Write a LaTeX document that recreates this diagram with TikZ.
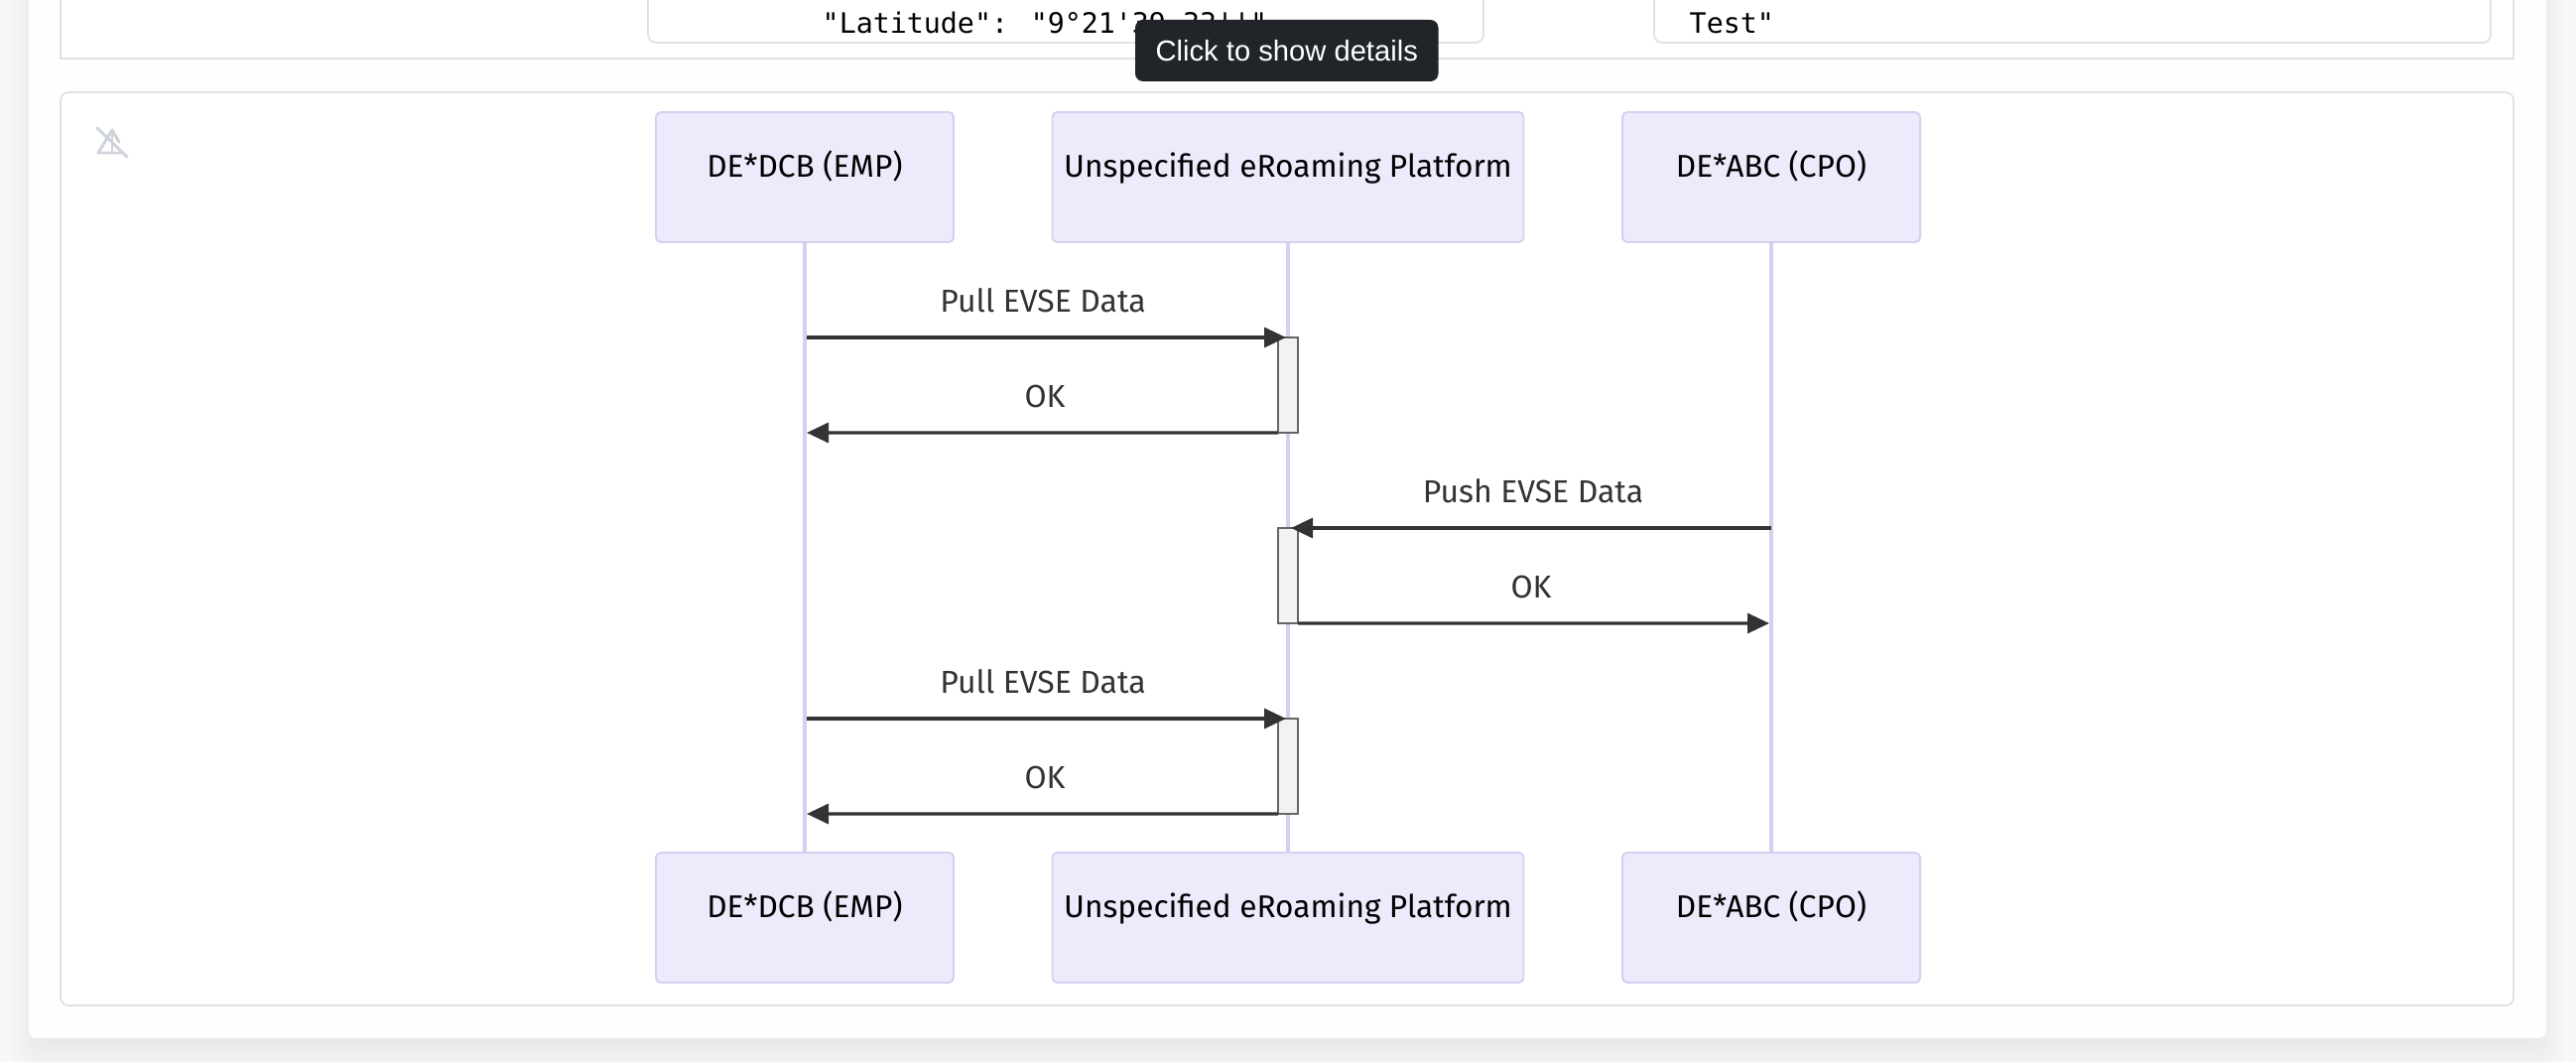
\documentclass[tikz,border=0pt]{standalone}
\usepackage{fontspec}
\usetikzlibrary{arrows.meta}
\newfontfamily\seqfont{Fira Sans}
\newfontfamily\codefont{DejaVu Sans Mono}
\newfontfamily\tipfont{Liberation Sans}
\definecolor{pagegrey}{HTML}{F7F8FA}
\definecolor{framegrey}{HTML}{DEE2E6}
\definecolor{actorfill}{HTML}{ECEAFB}
\definecolor{actorline}{HTML}{D7CFF0}
\definecolor{tipdark}{HTML}{212529}
\definecolor{msgdark}{HTML}{333333}
\definecolor{iconlight}{HTML}{CED4DA}
\tikzset{
	actorbox/.style={draw=actorline, fill=actorfill, line width=0.55pt, rounded corners=0.05cm, minimum height=1.31cm, inner sep=0},
	actortext/.style={anchor=base, inner sep=0, text=black, font=\seqfont\fontsize{9}{11}\selectfont},
	msgtext/.style={anchor=base, inner sep=0, text=msgdark, font=\seqfont\fontsize{9.1}{11}\selectfont},
	codetext/.style={anchor=base west, inner sep=0, text=black, font=\codefont\fontsize{8.05}{10}\selectfont},
	lifeline/.style={draw=actorline, line width=0.9pt},
	msgline/.style={draw=msgdark, line width=0.95pt, -{Triangle[length=0.22cm, width=0.2cm]}},
	actbox/.style={draw=black!60, fill=black!5, line width=0.55pt, minimum width=0.2cm, minimum height=0.96cm, inner sep=0, outer sep=0},
	framebox/.style={draw=framegrey, fill=white, line width=0.5pt}
}
\begin{document}
\begin{tikzpicture}

	\clip (0,0) rectangle (25.96,10.70);
	\fill[pagegrey] (0,0) rectangle (25.96,10.70);
	\foreach \shadowgap in {-0.24,-0.2,...,0.24}
		\fill[black, opacity=0.0075, rounded corners=0.2cm] (0.29-\shadowgap,0.11-\shadowgap) rectangle (25.66+\shadowgap,11.2);
	\fill[white!99.5!black, rounded corners=0.08cm] (0.29,0.24) rectangle (25.66,11);

	\filldraw[framebox] (0.61,11) rectangle (25.33,10.11);
	\filldraw[framebox, rounded corners=0.08cm] (6.53,11) rectangle (14.95,10.27);
	\filldraw[framebox, rounded corners=0.08cm] (16.67,11) rectangle (25.10,10.27);
	\node[codetext] (latitudetext) at (8.28,10.36) {"Latitude": "9°21'39.33''"};
	\node[codetext] (testtext) at (17.02,10.36) {Test"};
	\filldraw[framebox, rounded corners=0.08cm] (0.61,9.77) rectangle (25.33,0.57);

	\draw[iconlight, line width=0.85pt, line cap=round, line join=round] (1.13,9.39) -- (0.99,9.16) -- (1.24,9.16);
	\draw[iconlight, line width=0.85pt, line cap=round] (1.13,9.39) -- (1.13,9.16);
	\draw[iconlight, line width=0.85pt, line cap=round] (1.13,9.39) -- (1.20,9.27);
	\draw[iconlight, line width=0.85pt, line cap=round] (0.98,9.41) -- (1.28,9.12);

	\node[actorbox, minimum width=3cm] (emptop) at (8.11,8.915) {};
	\node[actorbox, minimum width=4.75cm] (platformtop) at (12.98,8.915) {};
	\node[actorbox, minimum width=3cm] (cpotop) at (17.85,8.915) {};
	\node[actorbox, minimum width=3cm] (empbottom) at (8.11,1.455) {};
	\node[actorbox, minimum width=4.75cm] (platformbottom) at (12.98,1.455) {};
	\node[actorbox, minimum width=3cm] (cpobottom) at (17.85,1.455) {};

	\node[actortext] (emptoptext) at (8.11,8.92) {DE*DCB (EMP)};
	\node[actortext] (platformtoptext) at (12.98,8.92) {Unspecified eRoaming Platform};
	\node[actortext] (cpotoptext) at (17.85,8.92) {DE*ABC (CPO)};
	\node[actortext] (empbottomtext) at (8.11,1.46) {DE*DCB (EMP)};
	\node[actortext] (platformbottomtext) at (12.98,1.46) {Unspecified eRoaming Platform};
	\node[actortext] (cpobottomtext) at (17.85,1.46) {DE*ABC (CPO)};

	\draw[lifeline] (emptop) -- (empbottom);
	\draw[lifeline] (platformtop) -- (platformbottom);
	\draw[lifeline] (cpotop) -- (cpobottom);

	\node[actbox] (activeone) at (12.98,6.82) {};
	\node[actbox] (activetwo) at (12.98,4.90) {};
	\node[actbox] (activethree) at (12.98,2.98) {};

	\coordinate (pullonestart) at (8.13,7.30);
	\coordinate (pullonetip) at (12.96,7.30);
	\coordinate (okonetip) at (8.13,6.34);
	\coordinate (pushstart) at (17.85,5.38);
	\coordinate (pushtip) at (13.01,5.38);
	\coordinate (oktwotip) at (17.83,4.42);
	\coordinate (pulltwostart) at (8.13,3.46);
	\coordinate (pulltwotip) at (12.96,3.46);
	\coordinate (okthreetip) at (8.13,2.50);

	\draw[msgline] (pullonestart) -- (pullonetip);
	\draw[msgline] (activeone.south west) -- (okonetip);
	\draw[msgline] (pushstart) -- (pushtip);
	\draw[msgline] (activetwo.south east) -- (oktwotip);
	\draw[msgline] (pulltwostart) -- (pulltwotip);
	\draw[msgline] (activethree.south west) -- (okthreetip);

	\node[msgtext] (pullonetext) at (10.51,7.56) {Pull EVSE Data};
	\node[msgtext] (okonetext) at (10.53,6.60) {OK};
	\node[msgtext] (pushtext) at (15.45,5.64) {Push EVSE Data};
	\node[msgtext] (oktwotext) at (15.43,4.68) {OK};
	\node[msgtext] (pulltwotext) at (10.51,3.72) {Pull EVSE Data};
	\node[msgtext] (okthreetext) at (10.53,2.76) {OK};

	\node[fill=tipdark, text=white, rounded corners=0.08cm, minimum width=3.055cm, minimum height=0.62cm, inner sep=0, font=\tipfont\fontsize{8.3}{10}\selectfont] (tooltip) at (12.9675,10.19) {Click to show details};

\end{tikzpicture}
\end{document}
